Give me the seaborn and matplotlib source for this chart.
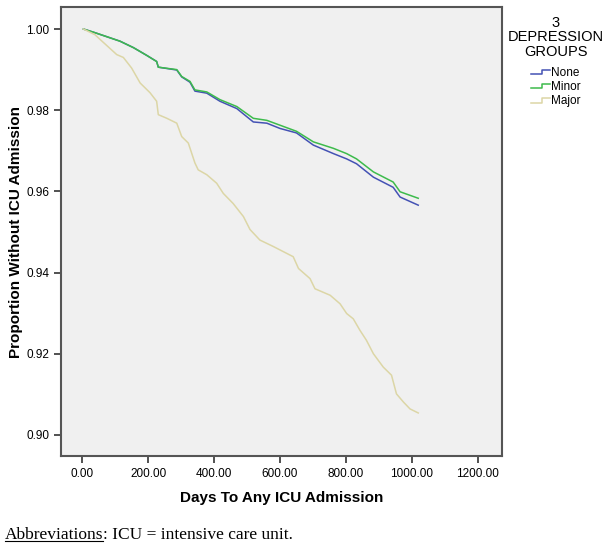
import pandas as pd
import numpy as np
from matplotlib import pyplot as plt
from matplotlib.legend_handler import HandlerBase
from matplotlib.lines import Line2D
import seaborn as sb

# values (days, proportion without ICU admission)
none_days = [4, 39, 115, 156, 196, 226, 231, 287, 302, 327, 342, 378, 418, 469, 519, 560, 600, 650,
             701, 762, 802, 832, 883, 943, 964, 1019]
none_prop = [1.0, 0.9991, 0.997, 0.9954, 0.9935, 0.992, 0.9906, 0.9899, 0.9882, 0.9869, 0.9847,
             0.9842, 0.9822, 0.9804, 0.9771, 0.9768, 0.9755, 0.9744, 0.9714, 0.9693, 0.968, 0.9668,
             0.9635, 0.961, 0.9586, 0.9566]

minor_days = [4, 39, 115, 156, 196, 226, 231, 287, 302, 327, 342, 378, 418, 469, 519, 560, 600, 650,
              701, 762, 802, 832, 883, 943, 964, 1019]
minor_prop = [1.0, 0.9991, 0.997, 0.9954, 0.9935, 0.992, 0.9906, 0.99, 0.9883, 0.9871, 0.985,
              0.9845, 0.9826, 0.9809, 0.978, 0.9775, 0.9763, 0.9748, 0.9722, 0.9706, 0.9693, 0.968,
              0.9648, 0.9623, 0.9599, 0.9583]

major_days = [4, 39, 55, 105, 125, 150, 176, 206, 226, 231, 257, 287, 302, 322, 342, 352, 378, 408,
              428, 458, 489, 509, 539, 580, 640, 656, 691, 706, 752, 782, 802, 822, 842, 862, 883,
              913, 938, 953, 974, 994, 1019]
major_prop = [1.0, 0.9986, 0.9974, 0.9937, 0.993, 0.9904, 0.9867, 0.9843, 0.9822, 0.9789, 0.978,
              0.9768, 0.9735, 0.9719, 0.967, 0.9653, 0.9641, 0.962, 0.9595, 0.957, 0.9538, 0.9506,
              0.948, 0.9464, 0.9439, 0.941, 0.9385, 0.936, 0.9344, 0.9323, 0.9299, 0.9286, 0.9258,
              0.9233, 0.92, 0.9167, 0.9147, 0.9101, 0.9081, 0.9064, 0.9054]

groups = ['None', 'Minor', 'Major']
colors = ['#4452b4', '#3dbb4c', '#dcd6a6']

df = pd.concat([
    pd.DataFrame({'days': none_days, 'prop': none_prop, 'group': 'None'}),
    pd.DataFrame({'days': minor_days, 'prop': minor_prop, 'group': 'Minor'}),
    pd.DataFrame({'days': major_days, 'prop': major_prop, 'group': 'Major'}),
])


# little step glyph like the SPSS legend
class StepHandler(HandlerBase):
    def create_artists(self, legend, orig_handle, xdescent, ydescent, width, height, fontsize, trans):
        x0 = -xdescent
        lo = -ydescent + height * 0.2
        hi = -ydescent + height * 0.75
        xs = [x0, x0 + width * 0.6, x0 + width * 0.6, x0 + width]
        ys = [lo, lo, hi, hi]
        ln = Line2D(xs, ys, color=orig_handle.get_color(), linewidth=1.1, transform=trans)
        return [ln]


plt.rcParams['font.family'] = ['Liberation Sans', 'DejaVu Sans']

fig = plt.figure(figsize=(6.08, 5.47), dpi=100)
ax = fig.add_axes([0.1003, 0.1664, 0.7254, 0.8206])
ax.set_facecolor('#f0f0f0')

sb.lineplot(data=df, x='days', y='prop', hue='group', hue_order=groups,
            palette=colors, estimator=None, sort=False, linewidth=1.1, ax=ax)

ax.set_xlim(-64, 1273)
ax.set_ylim(0.8948, 1.0054)
ax.set_xticks(np.arange(0, 1201, 200))
ax.set_xticklabels([f"{v:.2f}" for v in np.arange(0, 1201, 200)])
ax.set_yticks([0.90, 0.92, 0.94, 0.96, 0.98, 1.00])
ax.set_yticklabels(["0.90", "0.92", "0.94", "0.96", "0.98", "1.00"])
ax.tick_params(axis='both', labelsize=8.5, color='#333333', direction='out', length=5, width=1.2)
for s in ax.spines.values():
    s.set_color('#555555')
    s.set_linewidth(1.5)

ax.set_xlabel("Days To Any ICU Admission", fontsize=11, fontweight='bold', labelpad=8)
ax.set_ylabel("Proportion Without ICU Admission", fontsize=11, fontweight='bold', labelpad=2)

handles, labels = ax.get_legend_handles_labels()
leg = ax.legend(handles, labels, title="3\nDEPRESSION\nGROUPS", loc='upper center',
                bbox_to_anchor=(0.914, 0.991), bbox_transform=fig.transFigure,
                frameon=False, fontsize=8.5, title_fontsize=10.5, handlelength=1.6,
                handletextpad=0.1, labelspacing=0.18,
                handler_map={h: StepHandler() for h in handles})
leg.get_title().set_multialignment('center')
leg.get_title().set_linespacing(1.05)
leg._legend_box.sep = 6

# footnote with underlined word
t1 = fig.text(0.008, 0.015, "Abbreviations", family='Liberation Serif', fontsize=12.5)
fig.canvas.draw()
bb = t1.get_window_extent().transformed(fig.transFigure.inverted())
fig.text(bb.x1, 0.015, ": ICU = intensive care unit.", family='Liberation Serif', fontsize=12.5)
fig.add_artist(plt.Line2D([bb.x0, bb.x1], [0.011, 0.011], color='black', linewidth=0.8,
                          transform=fig.transFigure))

plt.savefig("out.png", dpi=100)
